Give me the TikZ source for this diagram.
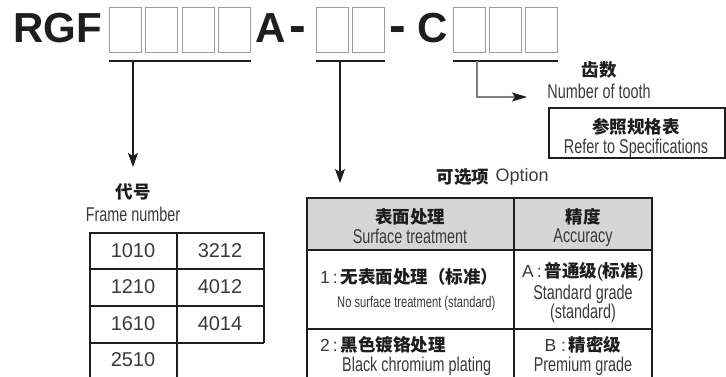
\documentclass[tikz,border=0pt]{standalone}
\usepackage{fontspec}
\setmainfont{Liberation Sans}
\newfontfamily\cond[FakeStretch=0.72]{Liberation Sans}
\newfontfamily\cjk{Noto Sans CJK SC}
\usepackage{xcolor}
\usetikzlibrary{arrows.meta,positioning,calc}
\definecolor{ink}{HTML}{1E1E1E}
\definecolor{txt}{HTML}{3A3A3A}
\definecolor{slotgray}{HTML}{9C9C9C}
\definecolor{leadgray}{HTML}{808080}
\definecolor{headfill}{HTML}{D6D6D6}

\begin{document}
\begin{tikzpicture}[x=1pt, y=-1pt, >={Stealth[length=14pt,width=10pt,inset=3pt]}]
\tikzset{
  title/.style={font=\fontsize{42}{42}\selectfont\bfseries, text=ink, inner sep=0pt, anchor=base west},
  hyph/.style={title, font=\fontsize{50}{50}\selectfont\bfseries},
  slot/.style={draw=slotgray, line width=1.2pt, minimum width=32pt, minimum height=45pt, anchor=north west, inner sep=0pt},
  bar/.style={draw=ink, line width=2pt},
  lead/.style={->, draw=ink, line width=1.2pt},
  zh/.style={font=\cjk\bfseries\fontsize{17.5}{17.5}\selectfont, text=ink, inner sep=0pt},
  en/.style={font=\cond\fontsize{20}{20}\selectfont, text=txt, inner sep=0pt},
  enwide/.style={font=\fontsize{18}{18}\selectfont, text=txt, inner sep=0pt},
  small/.style={font=\cond\fontsize{15.5}{15.5}\selectfont, text=txt, inner sep=0pt},
  num/.style={font=\fontsize{20}{20}\selectfont, text=txt, inner sep=0pt},
  grid/.style={draw=ink, line width=2pt},
}
\useasboundingbox (0,0) rectangle (726,377);

% Model code
\node[title] (rgf) at (13,43) {RGF};
\foreach \n/\x in {1/109,2/145,3/182,4/218} \node[slot] (f\n) at (\x,7) {};
\node[title] (a) at (255,43) {A};
\node[hyph] (dash1) at (289,43) {-};
\foreach \n/\x in {1/316,2/352} \node[slot] (o\n) at (\x,7) {};
\node[hyph] (dash2) at (389,43) {-};
\node[title] (c) at (417,43) {C};
\foreach \n/\x in {1/453,2/489,3/525} \node[slot] (t\n) at (\x,7) {};

% Underlines
\draw[bar] ([yshift=-8pt]f1.south west) -- ([yshift=-8pt]f4.south east);
\draw[bar] ([yshift=-8pt]o1.south west) -- ([yshift=-8pt]o2.south east);
\draw[bar] ([yshift=-8pt]t1.south west) -- ([yshift=-8pt]t3.south east);

% Leaders
\coordinate (tip1) at (133,167);
\coordinate (tip2) at (340,183);
\coordinate (bend3) at (477,97);
\coordinate (tip3) at (527,97);
\draw[lead] ([yshift=-8pt]f1.south west -| tip1) -- (tip1);
\draw[lead] ([yshift=-8pt]o1.south west -| tip2) -- (tip2);
\draw[draw=leadgray, line width=1.2pt, -{Stealth[length=15pt,width=9pt,inset=3pt,color=ink]}] ([yshift=-8pt]t1.south west -| bend3) |- (tip3);

% Number of tooth
\node[zh] (chi) at (599,70) {齿数};
\node[en, below=5pt of chi] (tooth) {Number of tooth};
\node[draw=ink, line width=2pt, minimum width=176pt, minimum height=50pt, anchor=north west] (spec) at (548,107) {};
\node[zh] (specz) at (636,127) {参照规格表};
\node[en, below=3pt of specz] (spece) {Refer to Specifications};

% Frame number
\node[zh] (dai) at (133,192) {代号};
\node[en, below=6pt of dai] (frame) {Frame number};
\draw[grid] (90,377) -- (90,233) -- (264,233) -- (264,343);
\foreach \y in {269,306,343} \draw[grid] (90,\y) -- (264,\y);
\draw[grid] (177,233) -- (177,377);
\foreach \n/\x/\y/\v in {1/133/251/1010, 2/133/287/1210, 3/133/324/1610, 4/133/360/2510,
                         5/220/251/3212, 6/220/287/4012, 7/220/324/4014}
  \node[num] (fn\n) at (\x,\y) {\v};

% Option
\node[zh] (opt) at (463,177) {可选项};
\node[enwide, right=6pt of opt] (option) {Option};
\fill[headfill] (307,198) rectangle (652,250);
\draw[grid] (307,377) -- (307,198) -- (652,198) -- (652,377);
\draw[grid] (307,250) -- (652,250);
\draw[grid] (307,329) -- (652,329);
\draw[grid] (514,198) -- (514,377);

\node[zh] (surfz) at (410,217) {表面处理};
\node[en, below=3pt of surfz] (surfe) {Surface treatment};
\node[zh] (accz) at (583,217) {精度};
\node[en, below=3pt of accz] (acce) {Accuracy};

\node[zh, anchor=west] (none) at (320,277) {{\normalfont\color{txt}1\,:\,}无表面处理（标准）};
\node[small, anchor=west] (nonee) at (337,303) {No surface treatment (standard)};
\node[zh] (grda) at (583,272) {{\normalfont\color{txt}A\,:\,}普通级{\normalfont(}标准{\normalfont)}};
\node[en] (grdae) at (583,294) {Standard grade};
\node[en] (grdas) at (583,313) {(standard)};

\node[zh, anchor=west] (black) at (320,345) {{\normalfont\color{txt}2\,:\,}黑色镀铬处理};
\node[en, anchor=west] (blacke) at (342,366) {Black chromium plating};
\node[zh] (grdb) at (583,345) {{\normalfont\color{txt}B\;:\,}精密级};
\node[en] (grdbe) at (583,366) {Premium grade};

\end{tikzpicture}
\end{document}
